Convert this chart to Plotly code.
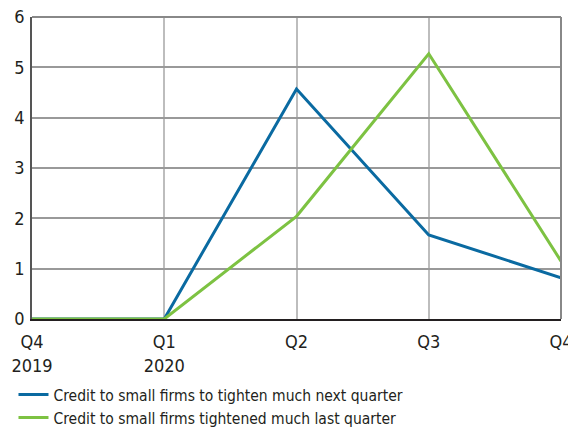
import plotly.graph_objects as go

quarters = ["Q4<br>2019", "Q1<br>2020", "Q2", "Q3", "Q4"]
next_quarter = [0, 0, 4.57, 1.67, 0.82]
last_quarter = [0, 0, 2.04, 5.27, 1.15]
y_ticks = [0, 1, 2, 3, 4, 5, 6]

FONT = "Liberation Sans Narrow, DejaVu Sans Condensed, sans-serif"
xs = list(range(len(quarters)))

fig = go.Figure()
fig.add_trace(go.Scatter(x=xs, y=next_quarter, mode="lines",
                         name="Credit to small firms to tighten much next quarter",
                         line=dict(color="#0a6aa1", width=3)))
fig.add_trace(go.Scatter(x=xs, y=last_quarter, mode="lines",
                         name="Credit to small firms tightened much last quarter",
                         line=dict(color="#7dc242", width=3)))

fig.update_layout(
    width=568, height=427,
    margin=dict(l=32, r=7, t=17, b=108, autoexpand=False),
    paper_bgcolor="white", plot_bgcolor="white",
    font=dict(family=FONT, color="#231f20", size=17),
    showlegend=True,
    legend=dict(x=-0.035, xref="paper", y=0.115, yref="container",
                xanchor="left", yanchor="top",
                font=dict(size=15.5, family=FONT), tracegroupgap=0,
                itemwidth=30, bgcolor="rgba(0,0,0,0)"),
    xaxis=dict(range=[0, 4], tickvals=xs, ticktext=quarters,
               showgrid=True, gridcolor="#bdbdbd", gridwidth=1.5,
               showline=True, linecolor="#231f20", linewidth=1.5,
               mirror=False, ticks="", zeroline=False, automargin=False,
               ticklabeloverflow="allow", ticklabelstandoff=6,
               tickfont=dict(size=18)),
    yaxis=dict(range=[0, 6], tickvals=y_ticks,
               showgrid=True, gridcolor="#999999", gridwidth=1.5,
               showline=True, linecolor="#555555", linewidth=1.5,
               ticks="", zeroline=False, ticklabelstandoff=2, automargin=False,
               tickfont=dict(size=18)),
)
# top and right border
fig.add_shape(type="line", xref="paper", yref="paper", x0=0, x1=1, y0=1, y1=1,
              line=dict(color="#888888", width=2))
fig.add_shape(type="line", xref="paper", yref="paper", x0=1, x1=1, y0=0, y1=1,
              line=dict(color="#888888", width=2))

fig.write_html("out.html")
